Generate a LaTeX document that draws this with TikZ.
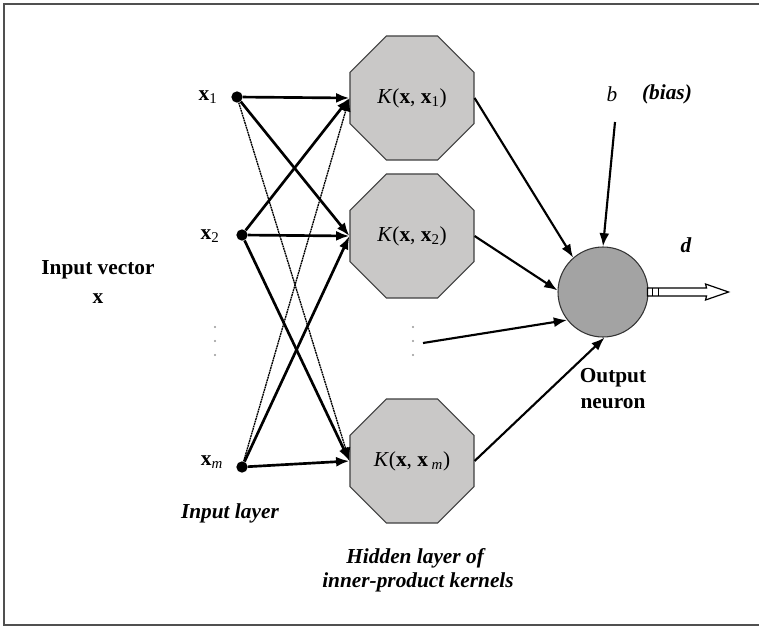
\documentclass[tikz,border=0pt]{standalone}
\usepackage{fontspec}
\setmainfont{Liberation Serif}
\usetikzlibrary{shapes.geometric,arrows.meta}
\definecolor{kgray}{RGB}{201,200,199}
\definecolor{ngray}{RGB}{163,163,163}
\definecolor{frame}{RGB}{80,80,80}
\definecolor{dotgray}{RGB}{150,150,150}
\begin{document}
\begin{tikzpicture}[x=0.75pt,y=-0.75pt,
  lbl/.style={font=\fontsize{16}{19}\selectfont, inner sep=0pt},
  inpt/.style={circle, fill=black, minimum size=8.5pt, inner sep=0pt},
  kern/.style={regular polygon, regular polygon sides=8, minimum size=100.7pt,
    inner sep=0pt, draw=black!75, line width=0.8pt, fill=kgray,
    font=\fontsize{16}{19}\selectfont},
  outn/.style={circle, minimum size=67.5pt, inner sep=0pt, draw=black!80,
    line width=0.8pt, fill=ngray},
  wedge/.style={line width=2pt, -{Latex[length=10pt,width=7.5pt]}},
  dedge/.style={line width=1pt, dash pattern=on 1.4pt off 0.5pt, -{Latex[length=10pt,width=7.5pt]}},
  oedge/.style={line width=1.6pt, -{Latex[length=10pt,width=7.5pt]}},
  vdot/.style={circle, fill=dotgray, minimum size=1.8pt, inner sep=0pt}
]
\useasboundingbox (0,0) rectangle (759,628);
% frame
\draw[frame, line width=1.2pt] (759,4) -- (4,4) -- (4,625) -- (759,625);

% input nodes
\node[inpt] (x1) at (237,97) {};
\node[inpt] (x2) at (242,235) {};
\node[inpt] (xm) at (242,467) {};
\node[lbl] (lx1) at (208,97) {\textbf{x}\textsubscript{1}};
\node[lbl] (lx2) at (210,236) {\textbf{x}\textsubscript{2}};
\node[lbl] (lxm) at (212,462) {\textbf{x}\textsubscript{\textit{m}}};

% kernel nodes
\node[kern] (k1) at (412,98) {\textit{K}(\textbf{x}, \textbf{x}\textsubscript{1})};
\node[kern] (k2) at (412,236) {\textit{K}(\textbf{x}, \textbf{x}\textsubscript{2})};
\node[kern] (km) at (412,461) {\textit{K}(\textbf{x}, \textbf{x}\,\textsubscript{\textit{m}})};

% output neuron
\node[outn] (out) at (603,292) {};

% vertical dots
\node[vdot] (d1) at (215,327) {};
\node[vdot] (d2) at (215,341) {};
\node[vdot] (d3) at (215,355) {};
\node[vdot] (e1) at (413,327) {};
\node[vdot] (e2) at (413,341) {};
\node[vdot] (e3) at (413,355) {};
\coordinate (kd) at (423,343);
\coordinate (bstart) at (615,122);

% input -> kernel connectors
\draw[wedge] (x1) -- (k1.west);
\draw[wedge] (x1) -- (k2.west);
\draw[dedge] (x1) -- (km.west);
\draw[wedge] (x2) -- (k1.west);
\draw[wedge] (x2) -- (k2.west);
\draw[wedge] (x2) -- (km.west);
\draw[dedge] (xm) -- (k1.west);
\draw[wedge] (xm) -- (k2.west);
\draw[wedge] (xm) -- (km.west);

% kernel -> output
\draw[oedge] (k1.east) -- (out.131);
\draw[oedge] (k2.east) -- (out.178);
\draw[oedge] (kd) -- (out.218);
\draw[oedge] (km.east) -- (out.272);
\draw[oedge] (bstart) -- (out.north);

% output arrow
\begin{scope}[shift={(out.east)}]
  \draw[fill=white, line width=0.9pt] (-1,-4) -- (58,-4) -- (57,-8) -- (80,0) -- (57,8) -- (58,4) -- (-1,4) -- cycle;
  \draw[line width=0.9pt] (4,-4) -- (4,4);
  \draw[line width=0.9pt] (10,-4) -- (10,4);
\end{scope}

% labels
\node[lbl] (iv) at (98,270) {\textbf{Input vector}};
\node[lbl] (ivx) at (98,299) {\textbf{x}};
\node[lbl] (il) at (230,513) {\textbf{\textit{Input layer}}};
\node[lbl] (hl1) at (416,558) {\textbf{\textit{Hidden layer of}}};
\node[lbl] (hl2) at (418,582) {\textbf{\textit{inner-product kernels}}};
\node[lbl] (lb) at (612,94) {\textit{b}};
\node[lbl] (lbias) at (667,94) {\textbf{\textit{(bias)}}};
\node[lbl] (ld) at (686,245) {\textbf{\textit{d}}};
\node[lbl] (lo1) at (613,378) {\textbf{Output}};
\node[lbl] (lo2) at (613,404) {\textbf{neuron}};
\end{tikzpicture}
\end{document}
